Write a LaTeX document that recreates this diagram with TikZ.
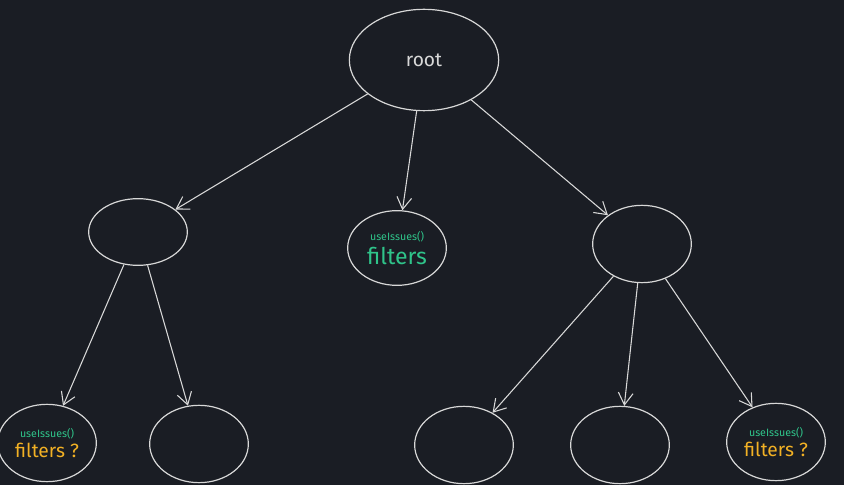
\documentclass[tikz,border=0pt]{standalone}
\usepackage{fontspec}
\setmainfont{Fira Sans}
\usetikzlibrary{shapes.geometric,arrows.meta}
\definecolor{bgdark}{HTML}{1A1D24}
\definecolor{inkgray}{HTML}{D8D8D8}
\definecolor{hookgreen}{HTML}{2FC48A}
\definecolor{askorange}{HTML}{F2B124}
\begin{document}
\begin{tikzpicture}[
    x=0.75pt,
    y=-0.75pt,
    v/.style={draw=inkgray, ellipse, line width=0.9pt, minimum width=74pt, minimum height=54pt, inner sep=0pt},
    e/.style={draw=inkgray, line width=0.8pt, -{Straight Barb[length=9pt, width=11pt]}},
]
    \fill[bgdark] (0, 0) rectangle (844, 485);
    \useasboundingbox (0, 0) rectangle (844, 485);

    \node[v, minimum width=112pt, minimum height=76pt, text=inkgray, font=\Large] (root) at (424, 60) {root};
    \node[v, minimum height=50pt] (left) at (138, 232) {};
    \node[v, minimum height=56pt, align=center] (mid) at (397, 248)
        {\textcolor{hookgreen}{\footnotesize useIssues()}\\[3pt]\textcolor{hookgreen}{\LARGE filters}};
    \node[v, minimum height=58pt] (right) at (642, 244) {};

    \node[v, minimum height=58pt, align=center] (ll) at (47, 443)
        {\textcolor{hookgreen}{\footnotesize useIssues()}\\[3pt]\textcolor{askorange}{\Large filters ?}};
    \node[v, minimum height=58pt] (lr) at (199, 444) {};
    \node[v, minimum height=58pt] (rl) at (464, 445) {};
    \node[v, minimum height=58pt] (rm) at (620, 445) {};
    \node[v, minimum height=58pt, align=center] (rr) at (776, 442)
        {\textcolor{hookgreen}{\footnotesize useIssues()}\\[3pt]\textcolor{askorange}{\Large filters ?}};

    \path[e] (root) -- (left);
    \path[e] (root) -- (mid);
    \path[e] (root) -- (right);
    \path[e] (left) -- (ll);
    \path[e] (left) -- (lr);
    \path[e] (right) -- (rl);
    \path[e] (right) -- (rm);
    \path[e] (right) -- (rr);
\end{tikzpicture}
\end{document}
